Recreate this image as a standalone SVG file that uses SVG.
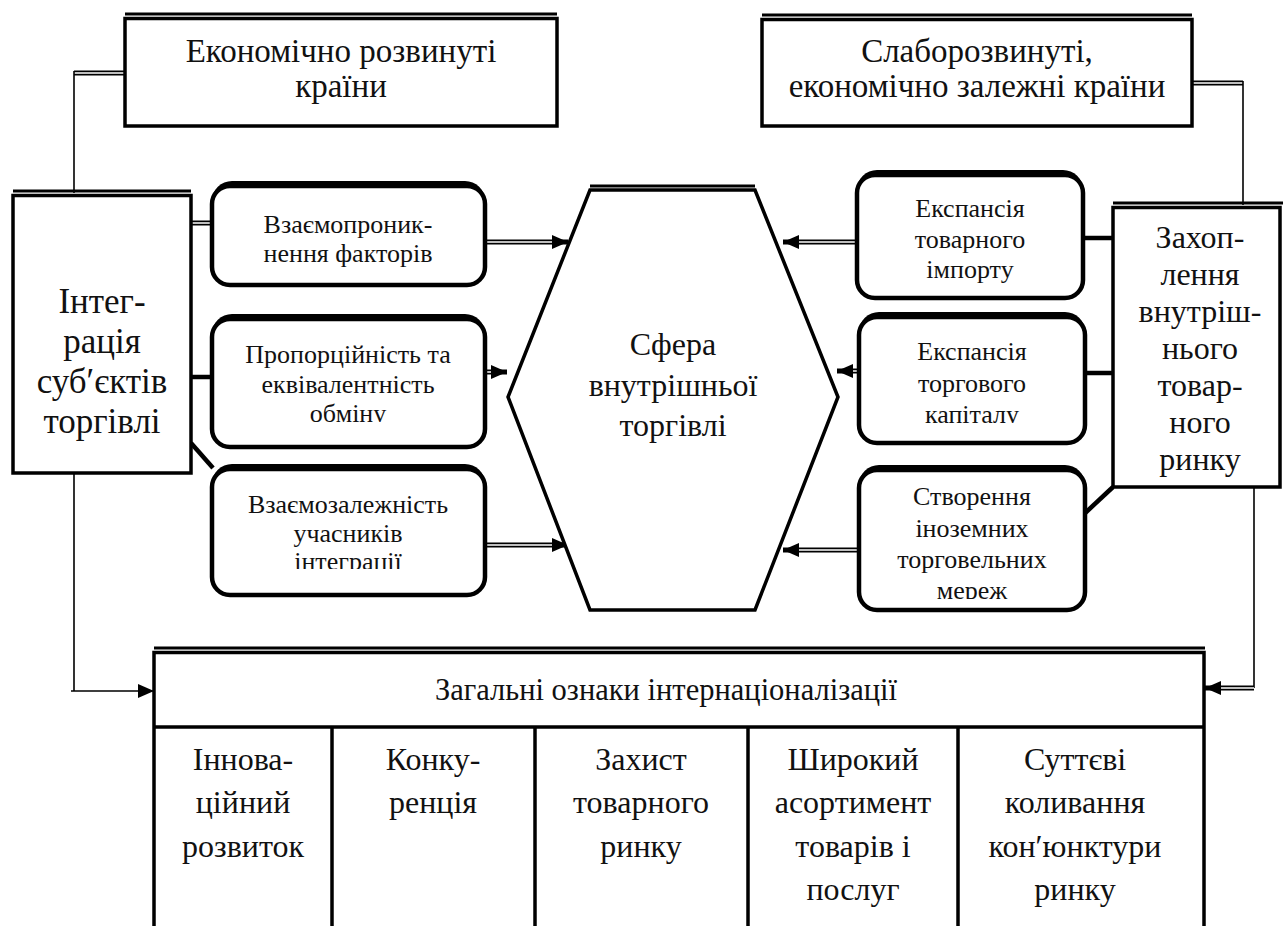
<svg xmlns="http://www.w3.org/2000/svg" width="1283" height="926" viewBox="0 0 1283 926" font-family="Liberation Serif, DejaVu Serif, serif">
<style>
.tx{font-family:"Liberation Serif","DejaVu Serif",serif;fill:#111;text-anchor:middle}
.t33{font-size:33px}.t35{font-size:35px}.t32{font-size:32px}.t30{font-size:30.5px}.t26{font-size:26px}
.box{fill:#fff;stroke:#000;stroke-width:3.5}
.ln{stroke:#000;stroke-width:3.5}
.rbx{fill:#fff;stroke:#000;stroke-width:4.5}
.sh{fill:#000}
.top{stroke:#000;stroke-width:3}
.thin{fill:none;stroke:#000;stroke-width:1.6}
.thk{fill:none;stroke:#000;stroke-width:4.5}
.dO{fill:none;stroke:#000;stroke-width:5}
.dI{fill:none;stroke:#fff;stroke-width:1.5}
</style>
<defs>
<marker id="ah" markerUnits="userSpaceOnUse" markerWidth="16" markerHeight="14" refX="16" refY="7" orient="auto"><path d="M0,0 L16,7 L0,14 z" fill="#000"/></marker>
<clipPath id="c1"><rect x="212" y="300" width="273" height="122"/></clipPath>
<clipPath id="c2"><rect x="212" y="450" width="273" height="119"/></clipPath>
<clipPath id="c3"><rect x="859" y="300" width="226" height="123"/></clipPath>
<clipPath id="c4"><rect x="859" y="450" width="226" height="149"/></clipPath>
</defs>

<g id="connectors">
<path class="dO" d="M74,73 H125"/><path class="dI" d="M74,73 H125"/>
<path class="thin" d="M74,71 V193"/>
<path class="dO" d="M1192,83 H1243"/><path class="dI" d="M1192,83 H1243"/>
<path class="thin" d="M1243,81 V205"/>
<path class="dO" d="M191,223 H212"/><path class="dI" d="M191,223 H212"/>
<path class="thk" d="M191,377 H212"/>
<path class="thk" d="M191,443 L213,468"/>
<path class="dO" d="M485,242 H568" marker-end="url(#ah)"/><path class="dI" d="M485,242 H552"/>
<path class="dO" d="M485,372 H507" marker-end="url(#ah)"/><path class="dI" d="M485,372 H491"/>
<path class="dO" d="M485,545 H568" marker-end="url(#ah)"/><path class="dI" d="M485,545 H552"/>
<path class="dO" d="M857,242 H783" marker-end="url(#ah)"/><path class="dI" d="M857,242 H799"/>
<path class="dO" d="M860,371 H837" marker-end="url(#ah)"/><path class="dI" d="M860,371 H853"/>
<path class="dO" d="M860,550 H783" marker-end="url(#ah)"/><path class="dI" d="M860,550 H799"/>
<path class="thk" d="M1083,238 H1113"/>
<path class="thk" d="M1085,373 H1113"/>
<path class="thk" d="M1083,515 L1113,487"/>
<path class="thin" d="M74,473 V691 M71,691 H154" marker-end="url(#ah)"/>
<path class="thin" d="M1254,487 V688"/>
<path class="dO" d="M1254,688 H1205" marker-end="url(#ah)"/><path class="dI" d="M1254,688 H1221"/>
</g>

<g id="n-developed">
<line class="top" x1="125" y1="14" x2="557" y2="14"/>
<rect class="box" x="125" y="18.5" width="432" height="107.5"/>
<text class="tx t33" x="341" y="62">Економічно розвинуті</text>
<text class="tx t33" x="341" y="97">країни</text>
</g>

<g id="n-underdeveloped">
<line class="top" x1="762" y1="15" x2="1192" y2="15"/>
<rect class="box" x="762" y="19.5" width="430" height="106.5"/>
<text class="tx t33" x="977" y="62">Слаборозвинуті,</text>
<text class="tx t33" x="977" y="97">економічно залежні країни</text>
</g>

<g id="n-integration">
<line class="top" x1="13" y1="191" x2="191" y2="191"/>
<rect class="box" x="13" y="195.5" width="178" height="277.5"/>
<text class="tx t35" x="102" y="313">Інтег-</text>
<text class="tx t35" x="102" y="353">рація</text>
<text class="tx t35" x="102" y="393">суб′єктів</text>
<text class="tx t35" x="102" y="433">торгівлі</text>
</g>

<g id="n-interpenetration">
<rect class="sh" x="212" y="181" width="273" height="104" rx="20"/>
<rect class="rbx" x="212" y="186" width="273" height="99" rx="18"/>
<text class="tx t26" x="348" y="233">Взаємопроник-</text>
<text class="tx t26" x="348" y="262">нення факторів</text>
</g>

<g id="n-proportionality">
<rect class="sh" x="212" y="314" width="273" height="133" rx="20"/>
<rect class="rbx" x="212" y="319" width="273" height="128" rx="18"/>
<text class="tx t26" x="348" y="363">Пропорційність та</text>
<text class="tx t26" x="348" y="393">еквівалентність</text>
<text class="tx t26" x="348" y="422" clip-path="url(#c1)">обміну</text>
</g>

<g id="n-interdependence">
<rect class="sh" x="212" y="464" width="273" height="131" rx="20"/>
<rect class="rbx" x="212" y="469" width="273" height="126" rx="18"/>
<text class="tx t26" x="348" y="513">Взаємозалежність</text>
<text class="tx t26" x="348" y="542">учасників</text>
<text class="tx t26" x="348" y="570" clip-path="url(#c2)">інтеграції</text>
</g>

<g id="n-sphere">
<line class="top" x1="590" y1="186" x2="755" y2="186"/>
<polygon class="box" points="590,190 755,190 838,397 755,610 590,610 508,397"/>
<text class="tx t32" x="673" y="355">Сфера</text>
<text class="tx t32" x="673" y="396">внутрішньої</text>
<text class="tx t32" x="673" y="436">торгівлі</text>
</g>

<g id="n-import">
<rect class="sh" x="857" y="170" width="226" height="128" rx="20"/>
<rect class="rbx" x="857" y="175" width="226" height="123" rx="18"/>
<text class="tx t26" x="970" y="217">Експансія</text>
<text class="tx t26" x="970" y="248">товарного</text>
<text class="tx t26" x="970" y="278">імпорту</text>
</g>

<g id="n-capital">
<rect class="sh" x="859" y="312" width="226" height="131" rx="20"/>
<rect class="rbx" x="859" y="317" width="226" height="126" rx="18"/>
<text class="tx t26" x="972" y="360">Експансія</text>
<text class="tx t26" x="972" y="392">торгового</text>
<text class="tx t26" x="972" y="423" clip-path="url(#c3)">капіталу</text>
</g>

<g id="n-networks">
<rect class="sh" x="859" y="465" width="226" height="145" rx="20"/>
<rect class="rbx" x="859" y="470" width="226" height="140" rx="18"/>
<text class="tx t26" x="972" y="505">Створення</text>
<text class="tx t26" x="972" y="537">іноземних</text>
<text class="tx t26" x="972" y="568">торговельних</text>
<text class="tx t26" x="972" y="599" clip-path="url(#c4)">мереж</text>
</g>

<g id="n-capture">
<line class="top" x1="1113" y1="203" x2="1283" y2="203"/>
<rect class="box" x="1113" y="207.5" width="167" height="279.5"/>
<text class="tx t32" x="1200" y="248">Захоп-</text>
<text class="tx t32" x="1200" y="285">лення</text>
<text class="tx t32" x="1200" y="322">внутріш-</text>
<text class="tx t32" x="1200" y="359">нього</text>
<text class="tx t32" x="1200" y="396">товар-</text>
<text class="tx t32" x="1200" y="433">ного</text>
<text class="tx t32" x="1200" y="470">ринку</text>
</g>

<g id="n-table">
<line class="top" x1="154" y1="648" x2="1205" y2="648"/>
<rect class="box" x="154" y="652.5" width="1050" height="290"/>
<line class="ln" x1="154" y1="727" x2="1204" y2="727"/>
<line class="ln" x1="332" y1="727" x2="332" y2="926"/>
<line class="ln" x1="535" y1="727" x2="535" y2="926"/>
<line class="ln" x1="748" y1="727" x2="748" y2="926"/>
<line class="ln" x1="958" y1="727" x2="958" y2="926"/>
<text class="tx t30" x="666" y="700">Загальні ознаки інтернаціоналізації</text>
<text class="tx t32" x="243" y="770">Іннова-</text>
<text class="tx t32" x="243" y="813">ційний</text>
<text class="tx t32" x="243" y="857">розвиток</text>
<text class="tx t32" x="433" y="770">Конку-</text>
<text class="tx t32" x="433" y="813">ренція</text>
<text class="tx t32" x="641" y="770">Захист</text>
<text class="tx t32" x="641" y="813">товарного</text>
<text class="tx t32" x="641" y="857">ринку</text>
<text class="tx t32" x="853" y="770">Широкий</text>
<text class="tx t32" x="853" y="813">асортимент</text>
<text class="tx t32" x="853" y="857">товарів і</text>
<text class="tx t32" x="853" y="900">послуг</text>
<text class="tx t32" x="1075" y="770">Суттєві</text>
<text class="tx t32" x="1075" y="813">коливання</text>
<text class="tx t32" x="1075" y="857">кон′юнктури</text>
<text class="tx t32" x="1075" y="900">ринку</text>
</g>
</svg>
